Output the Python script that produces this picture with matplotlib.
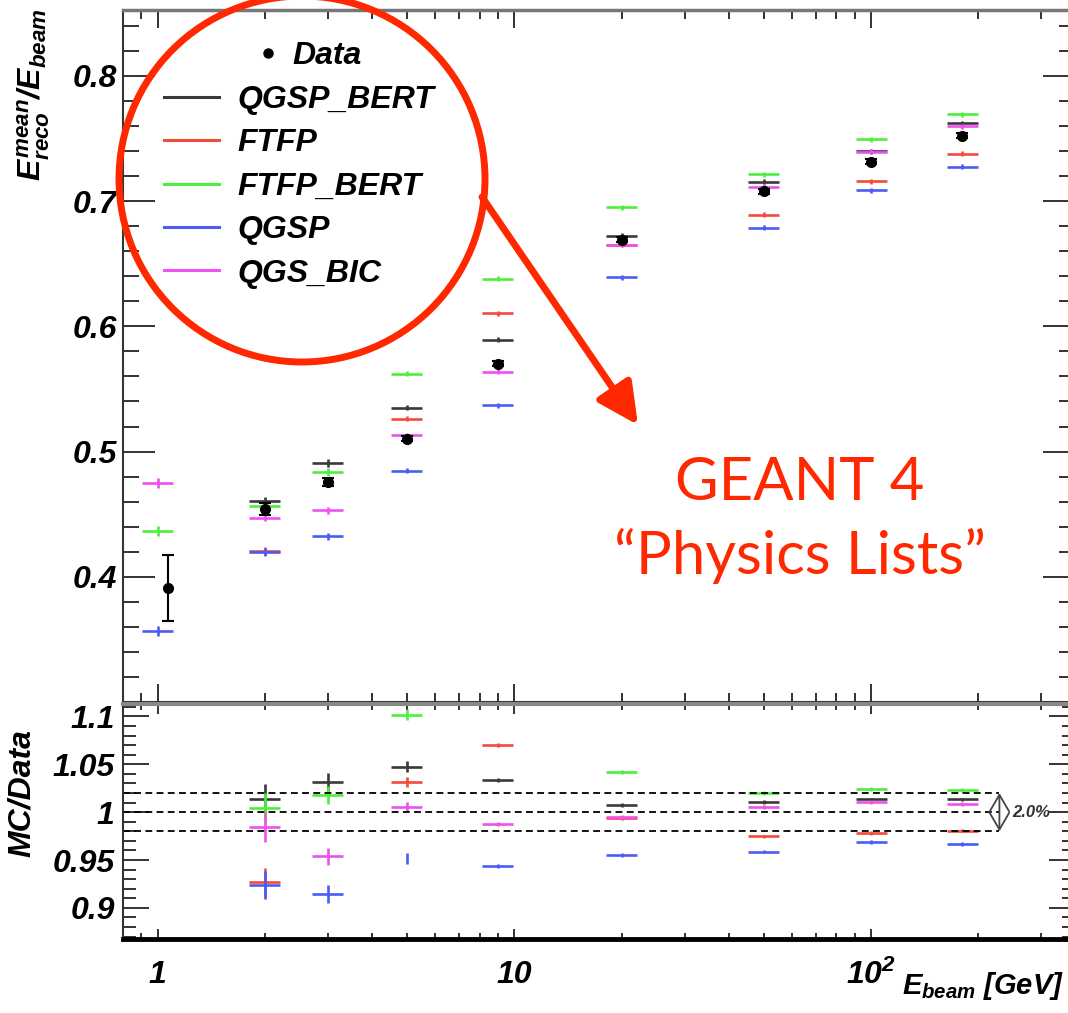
#!/usr/bin/env python3
"""CALICE-style response plot: E_reco/E_beam vs beam energy, data vs GEANT4 physics lists."""

import matplotlib
matplotlib.use("Agg")
import matplotlib.pyplot as plt
import numpy as np
from matplotlib.lines import Line2D
from matplotlib.patches import Ellipse
from matplotlib.ticker import LogLocator, MultipleLocator, NullFormatter, FixedLocator, FixedFormatter

# ---- data ----
energies = [1, 2, 3, 5, 9, 20, 50, 100, 180]
data_x = [1.07, 2, 3, 5, 9, 20, 50, 100, 180]
data_resp = [0.391, 0.454, 0.4755, 0.5102, 0.5703, 0.6693, 0.708, 0.7315, 0.7521]
data_err = [0.0265, 0.005, 0.003, 0.002, 0.002, 0.002, 0.002, 0.002, 0.002]

nan = np.nan
resp_qgsp_bert = [nan, 0.4608, 0.4907, 0.535, 0.5891, 0.6725, 0.7155, 0.7400, 0.7620]
resp_ftfp = [nan, 0.4207, nan, 0.526, 0.6104, 0.6650, 0.6890, 0.7160, 0.7380]
resp_ftfp_bert = [0.4367, 0.4562, 0.4835, 0.5623, 0.6380, 0.6952, 0.7214, 0.7492, 0.7695]
resp_qgsp = [0.357, 0.4196, 0.4322, 0.4845, 0.5370, 0.6390, 0.6786, 0.7088, 0.7275]
resp_qgs_bic = [0.4747, 0.4472, 0.4530, 0.5129, 0.5637, 0.6650, 0.7115, 0.7395, 0.7596]
mc_err = [0.004, 0.003, 0.003, 0.002, 0.002, 0.002, 0.002, 0.002, 0.002]

ratio_qgsp_bert = [nan, 1.014, 1.0314, 1.0475, 1.0332, 1.0073, 1.0105, 1.0133, 1.0133]
ratio_ftfp = [nan, 0.9267, nan, 1.0314, 1.0698, 0.9934, 0.9746, 0.9784, 0.9808]
ratio_ftfp_bert = [nan, 1.0046, 1.018, 1.102, nan, 1.0419, 1.0196, 1.0238, 1.0230]
ratio_qgsp = [nan, 0.924, 0.9146, 0.9515, 0.9435, 0.9554, 0.9589, 0.9686, 0.9669]
ratio_qgs_bic = [nan, 0.984, 0.954, 1.0052, 0.988, 0.9952, 1.0057, 1.0109, 1.0088]
ratio_err = [nan, 0.015, 0.009, 0.0055, 0.002, 0.002, 0.002, 0.002, 0.002]

band = [0.98, 1.0, 1.02]

lists = ["QGSP_BERT", "FTFP", "FTFP_BERT", "QGSP", "QGS_BIC"]
colors = ["#3a3a3a", "#f44a3a", "#4cf03c", "#4b5cf5", "#f050f0"]
responses = [resp_qgsp_bert, resp_ftfp, resp_ftfp_bert, resp_qgsp, resp_qgs_bic]
ratios = [ratio_qgsp_bert, ratio_ftfp, ratio_ftfp_bert, ratio_qgsp, ratio_qgs_bic]

# ---- style ----
plt.rcParams["font.family"] = ["Liberation Sans", "DejaVu Sans"]
plt.rcParams["font.weight"] = "bold"
plt.rcParams["font.style"] = "italic"
plt.rcParams["mathtext.fontset"] = "custom"
plt.rcParams["mathtext.rm"] = "Liberation Sans:bold:italic"
plt.rcParams["mathtext.it"] = "Liberation Sans:bold:italic"
plt.rcParams["mathtext.bf"] = "Liberation Sans:bold:italic"

W, H = 1068, 1013
FS = 23
RED = "#ff2800"

fig = plt.figure(figsize=(W / 100, H / 100), dpi=100)
ax1 = fig.add_axes([123 / W, 1 - 702 / H, 952 / W, 692.5 / H])
ax2 = fig.add_axes([123 / W, 1 - 939 / H, 952 / W, 235 / H])

k = 10 ** (15.5 / 356.7)  # half-width of the MC bars in log space


def hbar(x):
    x = np.asarray(x, dtype=float)
    return [x - x / k, x * k - x]


x = np.array(energies, dtype=float)
for name, col, resp in zip(lists, colors, responses):
    ax1.errorbar(x, resp, xerr=hbar(x), yerr=mc_err, fmt="none",
                 ecolor=col, elinewidth=1.9, capsize=0)
ax1.errorbar(data_x, data_resp, yerr=data_err, fmt="o", color="black",
             ms=7, elinewidth=1.5, capsize=4.5, capthick=1.5)

for name, col, rat in zip(lists, colors, ratios):
    xe = hbar(x)
    if name == "QGSP":
        # at 5 GeV only the vertical bar is visible
        xe[0][3] = 0
        xe[1][3] = 0
    ax2.errorbar(x, rat, xerr=xe, yerr=ratio_err, fmt="none",
                 ecolor=col, elinewidth=1.9, capsize=0)

xmin, xmax = 0.8, 373
arrow_x = 229
ax2.hlines(band, xmin, arrow_x, colors="black", linestyles=(0, (3.8, 2.4)), lw=1.3)
ax2.annotate("", xy=(arrow_x, band[0]), xytext=(arrow_x, band[2]),
             arrowprops=dict(arrowstyle="<->,head_length=0.6,head_width=0.35",
                             color="#444444", lw=1.3,
                             shrinkA=0, shrinkB=0, mutation_scale=20))
ax2.text(arrow_x * 1.085, band[1], "2.0%", fontsize=12, color="#333333",
         va="center", ha="left")

for ax in (ax1, ax2):
    ax.set_xscale("log")
    ax.set_xlim(xmin, xmax)
    ax.xaxis.set_major_locator(FixedLocator([1, 10, 100]))
    ax.xaxis.set_minor_locator(LogLocator(base=10, subs=np.arange(2, 10)))
    ax.xaxis.set_minor_formatter(NullFormatter())
    ax.tick_params(which="both", direction="in", top=True, right=True,
                   labelsize=FS, width=1.3, color="#222222")
    for s in ax.spines.values():
        s.set_linewidth(1.5)
        s.set_color("#333333")

ax1.set_ylim(0.3, 0.853)
ax1.yaxis.set_major_locator(MultipleLocator(0.1))
ax1.yaxis.set_minor_locator(MultipleLocator(0.02))
ax1.tick_params(axis="y", which="major", length=23, pad=4)
ax1.tick_params(axis="y", which="minor", length=11.5)
ax1.tick_params(axis="x", which="major", length=13)
ax1.tick_params(axis="x", which="minor", length=6.5)
ax1.tick_params(axis="x", labelbottom=False)
ax1.set_yticks([0.4, 0.5, 0.6, 0.7, 0.8])
ax1.set_yticklabels(["0.4", "0.5", "0.6", "0.7", "0.8"])
ax1.spines["top"].set_color("#777777")
ax1.spines["top"].set_linewidth(2.5)

ax2.set_ylim(0.8675, 1.113)
ax2.yaxis.set_major_locator(FixedLocator([0.9, 0.95, 1.0, 1.05, 1.1]))
ax2.yaxis.set_major_formatter(FixedFormatter(["0.9", "0.95", "1", "1.05", "1.1"]))
ax2.yaxis.set_minor_locator(MultipleLocator(0.01))
ax2.tick_params(axis="y", which="major", length=19, pad=6)
ax2.tick_params(axis="y", which="minor", length=9.5)
ax2.tick_params(axis="x", which="major", length=7, pad=15)
ax2.tick_params(axis="x", which="minor", length=4.5)
ax2.xaxis.set_major_formatter(FixedFormatter(["1", "10", r"$10^{2}$"]))
ax2.spines["bottom"].set_linewidth(3.5)
ax2.spines["bottom"].set_color("black")
ax2.spines["top"].set_color("#888888")
ax2.spines["top"].set_linewidth(3)

# axis titles (ROOT style, right/top aligned)
fig.text(34 / W, 1 - 8 / H, r"$E^{mean}_{reco}/E_{beam}$", rotation=90,
         ha="center", va="top", fontsize=FS)
fig.text(22 / W, 1 - 793 / H, "MC/Data", rotation=90, ha="center",
         va="center", fontsize=FS)
fig.text(1064 / W, 1 - 994 / H, r"$E_{beam}$ [GeV]", ha="right",
         va="baseline", fontsize=21)

# legends
leg_data = ax1.legend(
    [Line2D([], [], ls="none", marker="o", color="black", ms=6.5)], ["Data"],
    loc="upper left", bbox_to_anchor=(252 / W, 1 - 41 / H),
    bbox_transform=fig.transFigure, frameon=False, fontsize=FS,
    handlelength=1.0, handletextpad=0.28, borderpad=0, borderaxespad=0)
ax1.add_artist(leg_data)
ax1.legend([Line2D([], [], color=c, lw=2.2) for c in colors], lists,
           loc="upper left", bbox_to_anchor=(163.6 / W, 1 - 85 / H),
           bbox_transform=fig.transFigure, frameon=False, fontsize=FS,
           handlelength=1.73, handletextpad=0.59, labelspacing=0.42,
           borderpad=0, borderaxespad=0)

# red annotation overlay
fig.add_artist(Ellipse((302 / W, 1 - 179 / H), 2 * 183 / W, 2 * 183 / H,
                       transform=fig.transFigure, fill=False, ec=RED, lw=5))
fig.add_artist(matplotlib.patches.FancyArrowPatch(
    (482 / W, 1 - 197 / H), (638 / W, 1 - 425 / H),
    transform=fig.transFigure, color=RED, lw=5,
    arrowstyle="-|>,head_length=1.0,head_width=0.5", mutation_scale=25,
    shrinkA=0, shrinkB=0))
fig.text(800 / W, 1 - 500 / H, "GEANT 4", ha="center", va="baseline",
         fontsize=43, color=RED, family="Lato", weight="normal", style="normal")
fig.text(800 / W, 1 - 574 / H, "\u201cPhysics Lists\u201d", ha="center",
         va="baseline", fontsize=43, color=RED, family="Lato",
         weight="normal", style="normal")

fig.savefig("out.png", dpi=100)
